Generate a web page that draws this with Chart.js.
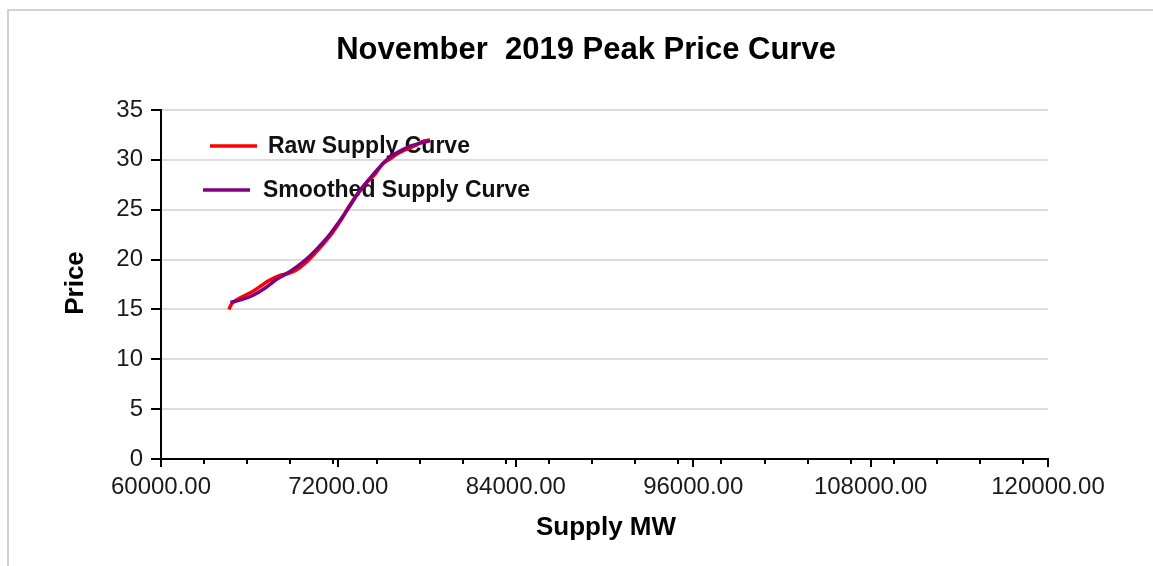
<!DOCTYPE html>
<html>
<head>
<meta charset="utf-8">
<script src="https://cdn.jsdelivr.net/npm/chart.js@4.4.1/dist/chart.umd.min.js"></script>
<style>
  html, body { margin: 0; padding: 0; background: #fff; }
  body { width: 1153px; height: 566px; position: relative; overflow: hidden; }
  #frame { position: absolute; left: 7px; top: 9px; right: -10px; bottom: -10px;
           border-top: 2px solid #d2d2d2; border-left: 2px solid #d2d2d2; }
  #wrap { position: absolute; left: 0; top: 0; width: 1153px; height: 566px; }
</style>
</head>
<body>
<div id="frame"></div>
<div id="wrap"><canvas id="c" width="1153" height="566"></canvas></div>
<script>
// ---- Data ----
const chartTitle = "November  2019 Peak Price Curve";
const xAxisTitle = "Supply MW";
const yAxisTitle = "Price";
const seriesNames = ["Raw Supply Curve", "Smoothed Supply Curve"];

const rawSupplyMW = [64600, 64800, 65400, 66200, 66800, 67300, 68000, 68600, 69100, 69800, 70400, 71000, 71600, 72200, 72700, 73300, 73900, 74500, 75000, 75500, 76000, 76500, 77000, 77400, 77800, 78200];
const rawPrice    = [15.0, 15.6, 16.2, 16.8, 17.4, 17.9, 18.4, 18.6, 18.9, 19.7, 20.6, 21.6, 22.7, 24.0, 25.3, 26.6, 27.7, 28.6, 29.6, 30.1, 30.6, 31.0, 31.3, 31.6, 31.9, 32.0];

const smoothSupplyMW = [64700, 65500, 66200, 67000, 67800, 68500, 69200, 69800, 70500, 71300, 72000, 72700, 73400, 74100, 74800, 75500, 76200, 76900, 77600, 78200];
const smoothPrice    = [15.7, 16.0, 16.4, 17.1, 18.0, 18.6, 19.3, 20.0, 21.0, 22.3, 23.7, 25.2, 26.8, 28.1, 29.3, 30.3, 30.9, 31.4, 31.7, 31.9];

const xMin = 60000, xMax = 120000, xMajorStep = 12000, xMinorStep = 2916;
const yMin = 0, yMax = 35, yStep = 5;

const seriesColors = ["#ff0000", "#800080"];

// ---- Build ----
const toPts = (xs, ys) => xs.map((x, i) => ({ x: x, y: ys[i] }));

const FONT = "'Liberation Sans', Arial, sans-serif";

const decor = {
  id: 'decor',
  beforeDatasetsDraw(chart) {
    const ctx = chart.ctx;
    ctx.save();
    const items = [
      { lx1: 210, lx2: 257, y: 146, tx: 268 },
      { lx1: 203, lx2: 250, y: 190, tx: 263 }
    ];
    items.forEach((it, i) => {
      ctx.strokeStyle = seriesColors[i];
      ctx.lineWidth = 3.5;
      ctx.beginPath();
      ctx.moveTo(it.lx1, it.y);
      ctx.lineTo(it.lx2, it.y);
      ctx.stroke();
      ctx.fillStyle = "#111";
      ctx.font = "bold 23px " + FONT;
      ctx.textAlign = "left";
      ctx.textBaseline = "middle";
      ctx.fillText(seriesNames[i], it.tx, it.y + 1);
    });
    ctx.restore();
  },
  afterDraw(chart) {
    const ctx = chart.ctx;
    const xs = chart.scales.x;
    const area = chart.chartArea;
    ctx.save();
    ctx.strokeStyle = "#000";
    ctx.lineWidth = 2;
    for (let v = xMin + xMinorStep; v < xMax; v += xMinorStep) {
      const px = Math.round(xs.getPixelForValue(v));
      ctx.beginPath();
      ctx.moveTo(px, area.bottom);
      ctx.lineTo(px, area.bottom + 5);
      ctx.stroke();
    }
    ctx.fillStyle = "#000";
    ctx.textAlign = "center";
    ctx.textBaseline = "middle";
    ctx.font = "bold 31px " + FONT;
    ctx.fillText(chartTitle, 586, 50);
    ctx.font = "bold 26px " + FONT;
    ctx.fillText(xAxisTitle, 606, 528);
    ctx.translate(76, 283);
    ctx.rotate(-Math.PI / 2);
    ctx.fillText(yAxisTitle, 0, 0);
    ctx.restore();
  }
};

new Chart(document.getElementById('c'), {
  type: 'scatter',
  data: {
    datasets: [
      {
        label: seriesNames[0],
        data: toPts(rawSupplyMW, rawPrice),
        showLine: true,
        borderColor: seriesColors[0],
        backgroundColor: seriesColors[0],
        borderWidth: 3.5,
        pointRadius: 0,
        tension: 0.3,
        order: 2
      },
      {
        label: seriesNames[1],
        data: toPts(smoothSupplyMW, smoothPrice),
        showLine: true,
        borderColor: seriesColors[1],
        backgroundColor: seriesColors[1],
        borderWidth: 3.5,
        pointRadius: 0,
        cubicInterpolationMode: 'monotone',
        order: 1
      }
    ]
  },
  options: {
    responsive: false,
    animation: false,
    devicePixelRatio: 1,
    layout: { padding: { top: 110, right: 105, left: 0, bottom: 0 } },
    plugins: {
      legend: { display: false },
      title: { display: false },
      tooltip: { enabled: false }
    },
    scales: {
      x: {
        type: 'linear',
        min: xMin, max: xMax,
        afterFit(s) { s.height = 107; },
        afterBuildTicks(s) {
          const t = [];
          for (let v = xMin; v <= xMax; v += xMajorStep) t.push({ value: v });
          s.ticks = t;
        },
        ticks: {
          callback: v => Number(v).toFixed(2),
          font: { family: FONT, size: 24 },
          color: "#1a1a1a",
          padding: 6,
          maxRotation: 0,
          autoSkip: false
        },
        grid: { drawOnChartArea: false, tickLength: 8, tickColor: "#000", lineWidth: 2 },
        border: { color: "#000", width: 2 }
      },
      y: {
        type: 'linear',
        min: yMin, max: yMax,
        afterFit(s) { s.width = 161; },
        ticks: {
          stepSize: yStep,
          font: { family: FONT, size: 24 },
          color: "#1a1a1a",
          padding: 8
        },
        grid: { color: "#dcdcdc", lineWidth: 2, tickLength: 10, tickColor: "#000" },
        border: { color: "#000", width: 2 }
      }
    }
  },
  plugins: [decor]
});
</script>
</body>
</html>
